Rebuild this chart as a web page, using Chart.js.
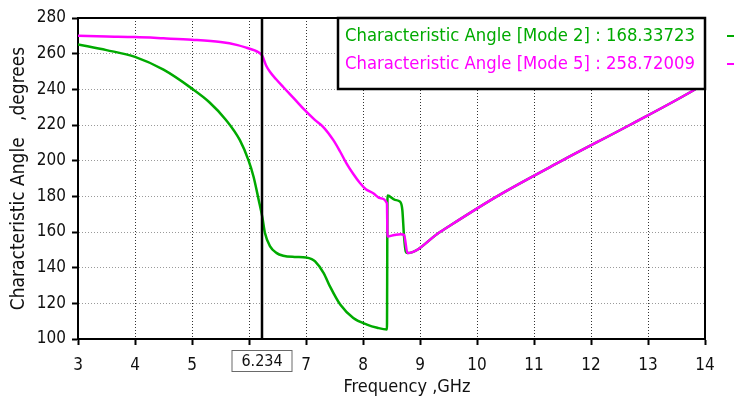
<!DOCTYPE html>
<html>
<head>
<meta charset="utf-8">
<script src="https://cdn.jsdelivr.net/npm/chart.js@4.4.1/dist/chart.umd.min.js"></script>
<style>
  html, body { margin: 0; padding: 0; background: #fff; }
  #wrap { width: 734px; height: 401px; position: relative; }
</style>
</head>
<body>
<div id="wrap"><canvas id="c"></canvas></div>
<script>
// Characteristic angle vs. frequency for two modes
const freqMode2 = [3, 3.5, 4, 4.5, 5, 5.3, 5.6, 5.84, 5.99, 6.08, 6.17, 6.234, 6.28, 6.37, 6.48, 6.6, 6.8, 7.0, 7.1, 7.16, 7.31, 7.42, 7.6, 7.83, 8.07, 8.25, 8.42, 8.43, 8.56, 8.65, 8.69, 8.72, 8.75, 8.78, 9.35, 10.35, 11.49, 12.68, 13.8, 14];
const angleMode2 = [265.2, 262.0, 258.2, 251.0, 240.4, 232.9, 222.7, 211.5, 200.3, 191.0, 178.0, 168.33723, 159.4, 151.9, 148.3, 146.7, 146.0, 145.7, 144.8, 143.5, 137.0, 129.5, 119.3, 111.8, 108.1, 106.3, 105.3, 180.4, 178.0, 177.0, 172.4, 157.5, 149.0, 148.2, 160.0, 180.0, 200.0, 220.0, 239.5, 243.5];

const freqMode5 = [3, 3.5, 4, 4.5, 5, 5.5, 5.8, 5.96, 6.1, 6.16, 6.234, 6.3, 6.37, 6.48, 6.6, 6.8, 6.98, 7.15, 7.3, 7.48, 7.6, 7.71, 7.83, 7.95, 8.05, 8.18, 8.3, 8.42, 8.43, 8.55, 8.66, 8.72, 8.78, 9.35, 10.35, 11.49, 12.68, 13.8, 14];
const angleMode5 = [270.0, 269.6, 269.3, 268.6, 267.8, 266.5, 264.8, 263.3, 261.8, 260.9, 258.72009, 253.4, 249.7, 245.5, 241.3, 234.5, 228.3, 223.0, 219.0, 211.5, 205.0, 198.5, 192.5, 187.3, 184.0, 181.7, 179.0, 176.1, 157.5, 158.3, 158.8, 158.4, 148.2, 160.0, 180.0, 200.0, 220.0, 239.5, 243.5];

const xTickValues = [3, 4, 5, 6, 7, 8, 9, 10, 11, 12, 13, 14];
const yTickValues = [100, 120, 140, 160, 180, 200, 220, 240, 260, 280];
const cursorFreq = 6.234;

const seriesNames = ['Characteristic Angle [Mode 2]', 'Characteristic Angle [Mode 5]'];
const xTitle = 'Frequency ,GHz';
const yTitle = 'Characteristic Angle   ,degrees';
const GREEN = '#00aa00';
const MAGENTA = '#ff00ff';
const FONT = "'DejaVu Sans Condensed', 'DejaVu Sans', sans-serif";
const TEXT = '#101010';

const toPoints = (xs, ys) => xs.map((x, i) => ({ x: x, y: ys[i] }));
const valueAt = (xs, ys, f) => ys[xs.indexOf(f)];

// cursor line, plot frame, marker box, axis title and legend drawn on top of the data
const overlay = {
  id: 'overlay',
  afterDatasetsDraw(chart) {
    const { ctx, chartArea: a, scales: { x } } = chart;
    const cx = Math.round(x.getPixelForValue(cursorFreq));
    ctx.save();
    ctx.strokeStyle = '#000';
    ctx.lineWidth = 2.5;
    ctx.beginPath();
    ctx.moveTo(cx, a.top);
    ctx.lineTo(cx, a.bottom);
    ctx.stroke();
    ctx.lineWidth = 2;
    ctx.beginPath();
    ctx.moveTo(a.left, a.top);
    ctx.lineTo(a.right, a.top);
    ctx.lineTo(a.right, a.bottom);
    ctx.stroke();
    ctx.restore();
  },
  afterDraw(chart) {
    const { ctx, chartArea: a, scales: { x } } = chart;
    const cx = Math.round(x.getPixelForValue(cursorFreq));
    ctx.save();
    // frequency marker box under the axis
    const bw = 61, bh = 22, by = a.bottom + 11;
    ctx.fillStyle = '#fff';
    ctx.fillRect(cx - bw / 2, by, bw, bh);
    ctx.strokeStyle = '#6a6a6a';
    ctx.lineWidth = 1;
    ctx.strokeRect(cx - bw / 2 + 0.5, by + 0.5, bw - 1, bh - 1);
    ctx.fillStyle = TEXT;
    ctx.font = '16px ' + FONT;
    ctx.textAlign = 'center';
    ctx.textBaseline = 'middle';
    ctx.fillText(cursorFreq.toFixed(3), cx, by + bh / 2 + 1);

    // horizontal axis title
    ctx.font = '18px ' + FONT;
    ctx.fillText(xTitle, 407, 387);

    // legend box with the values at the cursor
    const lx = 338, ly = a.top, lw = a.right - lx, lh = 71;
    ctx.fillStyle = '#fff';
    ctx.fillRect(lx, ly, lw, lh);
    ctx.strokeStyle = '#000';
    ctx.lineWidth = 2.5;
    ctx.strokeRect(lx, ly, lw, lh);
    const rows = [
      { name: seriesNames[0], v: valueAt(freqMode2, angleMode2, cursorFreq), c: GREEN },
      { name: seriesNames[1], v: valueAt(freqMode5, angleMode5, cursorFreq), c: MAGENTA }
    ];
    ctx.font = '18.3px ' + FONT;
    ctx.textAlign = 'left';
    rows.forEach((r, i) => {
      const ty = ly + 18 + i * 28;
      ctx.fillStyle = r.c;
      ctx.fillText(r.name + ' : ' + r.v.toFixed(5), lx + 7, ty);
      ctx.strokeStyle = r.c;
      ctx.lineWidth = 2;
      ctx.beginPath();
      ctx.moveTo(a.right + 22, ty);
      ctx.lineTo(a.right + 30, ty);
      ctx.stroke();
    });
    ctx.restore();
  }
};

new Chart(document.getElementById('c'), {
  type: 'line',
  data: {
    datasets: [
      {
        label: seriesNames[0],
        data: toPoints(freqMode2, angleMode2),
        borderColor: GREEN,
        borderWidth: 2.5,
        pointRadius: 0,
        cubicInterpolationMode: 'monotone',
        order: 2
      },
      {
        label: seriesNames[1],
        data: toPoints(freqMode5, angleMode5),
        borderColor: MAGENTA,
        borderWidth: 2.5,
        pointRadius: 0,
        cubicInterpolationMode: 'monotone',
        order: 1
      }
    ]
  },
  options: {
    responsive: true,
    maintainAspectRatio: false,
    animation: false,
    devicePixelRatio: 1,
    layout: { padding: { top: 18, right: 29, bottom: 0, left: 0 } },
    plugins: { legend: { display: false }, tooltip: { enabled: false } },
    scales: {
      x: {
        type: 'linear',
        min: 3,
        max: 14,
        afterBuildTicks: (s) => { s.ticks = xTickValues.map(v => ({ value: v })); },
        afterFit: (s) => { s.height = 62; },
        border: { display: true, color: '#000', width: 2, dash: [1, 2] },
        grid: { color: '#333', lineWidth: 1, tickLength: 6, tickColor: '#000', tickWidth: 2 },
        ticks: { color: TEXT, font: { family: FONT, size: 17 }, padding: 10, maxRotation: 0, autoSkip: false },
        title: { display: false }
      },
      y: {
        min: 100,
        max: 280,
        afterBuildTicks: (s) => { s.ticks = yTickValues.map(v => ({ value: v })); },
        afterFit: (s) => { s.width = 78; },
        border: { display: true, color: '#000', width: 2, dash: [1, 2] },
        grid: { color: '#9a9a9a', lineWidth: 1, tickLength: 6, tickColor: '#000', tickWidth: 2 },
        ticks: { color: TEXT, font: { family: FONT, size: 17 }, padding: 6 },
        title: { display: true, text: yTitle, color: TEXT, font: { family: FONT, size: 19 }, padding: { top: 8, bottom: 0 } }
      }
    }
  },
  plugins: [overlay]
});
</script>
</body>
</html>
